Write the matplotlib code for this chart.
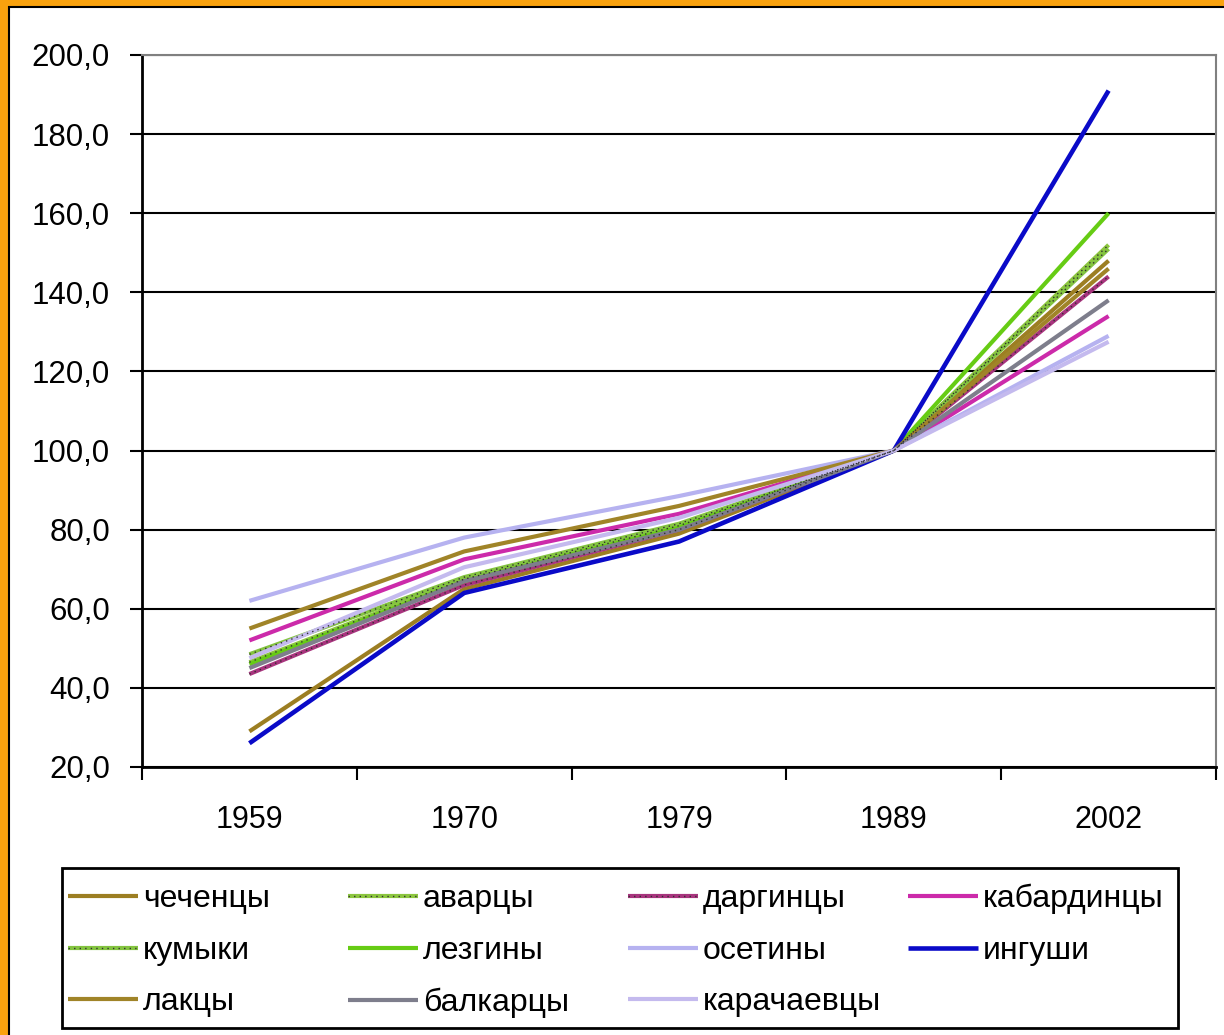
import numpy as np
import matplotlib.pyplot as plt
from matplotlib.patches import Rectangle
from matplotlib.legend_handler import HandlerTuple
from matplotlib.ticker import FuncFormatter, FixedLocator

plt.rcParams['font.family'] = ['Liberation Sans', 'DejaVu Sans']

years = ['1959', '1970', '1979', '1989', '2002']

chechens = [29, 65, 79, 100, 148]
avars = [46.5, 67.5, 81, 100, 152]
dargins = [43.5, 66, 80, 100, 144]
kabardins = [52, 72.5, 84, 100, 134]
kumyks = [48.5, 68, 81.5, 100, 151]
lezgins = [46, 67, 80.5, 100, 160]
ossetians = [62, 78, 88.5, 100, 129]
ingush = [26, 64, 77, 100, 191]
laks = [55, 74.5, 86, 100, 146]
balkars = [45, 67, 80, 100, 138]
karachays = [47.5, 70.5, 83, 100, 127.5]

# name, values, colour, dotted overlay
series = [
    ('чеченцы', chechens, '#9c7e22', False),
    ('аварцы', avars, '#8cc63f', True),
    ('даргинцы', dargins, '#a8347e', True),
    ('кабардинцы', kabardins, '#cc2aaa', False),
    ('кумыки', kumyks, '#84c440', True),
    ('лезгины', lezgins, '#66cc14', False),
    ('осетины', ossetians, '#b6b2f0', False),
    ('ингуши', ingush, '#0a0ac8', False),
    ('лакцы', laks, '#a08428', False),
    ('балкарцы', balkars, '#7e7e8c', False),
    ('карачаевцы', karachays, '#c4baee', False),
]

W, H = 1224, 1035
fig = plt.figure(figsize=(W / 100, H / 100), dpi=100)
fig.patch.set_facecolor('#f9a20e')
fig.patches.append(Rectangle((9 / W, -0.05), 1.1, 1 - 7 / H + 0.05,
                             transform=fig.transFigure, facecolor='white',
                             edgecolor='black', lw=1.5, zorder=-1))

ax = fig.add_axes([142 / W, 1 - 767 / H, (1216 - 142) / W, (767 - 55) / H])
x = np.arange(len(years))

handles = {}
for name, vals, col, dotted in series:
    lw = 3.3 if name == 'ингуши' else 3
    ln, = ax.plot(x, vals, color=col, lw=lw, solid_capstyle='butt', zorder=3)
    if dotted:
        dt, = ax.plot(x, vals, color='#303030', lw=1, ls=(0, (1, 3)), zorder=4)
        handles[name] = (ln, dt)
    else:
        handles[name] = ln

ax.set_xlim(-0.5, 4.5)
ax.set_ylim(20, 200)
ax.set_yticks(np.arange(20, 201, 20))
ax.yaxis.set_major_formatter(FuncFormatter(lambda v, p: ('%.1f' % v).replace('.', ',')))
ax.grid(axis='y', color='black', lw=1.5, zorder=1)
ax.set_xticks(x)
ax.set_xticklabels(years)
ax.xaxis.set_minor_locator(FixedLocator(np.arange(-0.5, 4.6, 1)))
ax.tick_params(axis='x', which='major', length=0, pad=27, labelsize=22)
ax.tick_params(axis='x', which='minor', length=9, width=1.5, direction='out')
ax.tick_params(axis='y', length=9, width=1.5, pad=14, labelsize=22.5)
for s in ['left', 'bottom']:
    ax.spines[s].set_linewidth(2)
    ax.spines[s].set_color('black')
for s in ['top', 'right']:
    ax.spines[s].set_linewidth(1.5)
    ax.spines[s].set_color('#808080')

# legend: frame plus four equal-width columns, filled row by row
fig.patches.append(Rectangle((62 / W, 1 - 1028 / H), (1178 - 62) / W, (1028 - 868) / H,
                             transform=fig.transFigure, facecolor='white',
                             edgecolor='black', lw=2, zorder=1))
names = [s[0] for s in series]
col_x = [68, 348, 628, 908]
for c in range(4):
    cols = names[c::4]
    leg = fig.legend([handles[n] for n in cols], cols, loc='upper left',
                     bbox_to_anchor=(col_x[c] / W, 1 - 884 / H), borderaxespad=0,
                     borderpad=0, fontsize=23, frameon=False, handlelength=2.2,
                     handletextpad=0.15, labelspacing=0.68,
                     handler_map={tuple: HandlerTuple(ndivide=1)})
    leg.set_zorder(2)

fig.savefig('out.png', dpi=100, facecolor=fig.get_facecolor())
